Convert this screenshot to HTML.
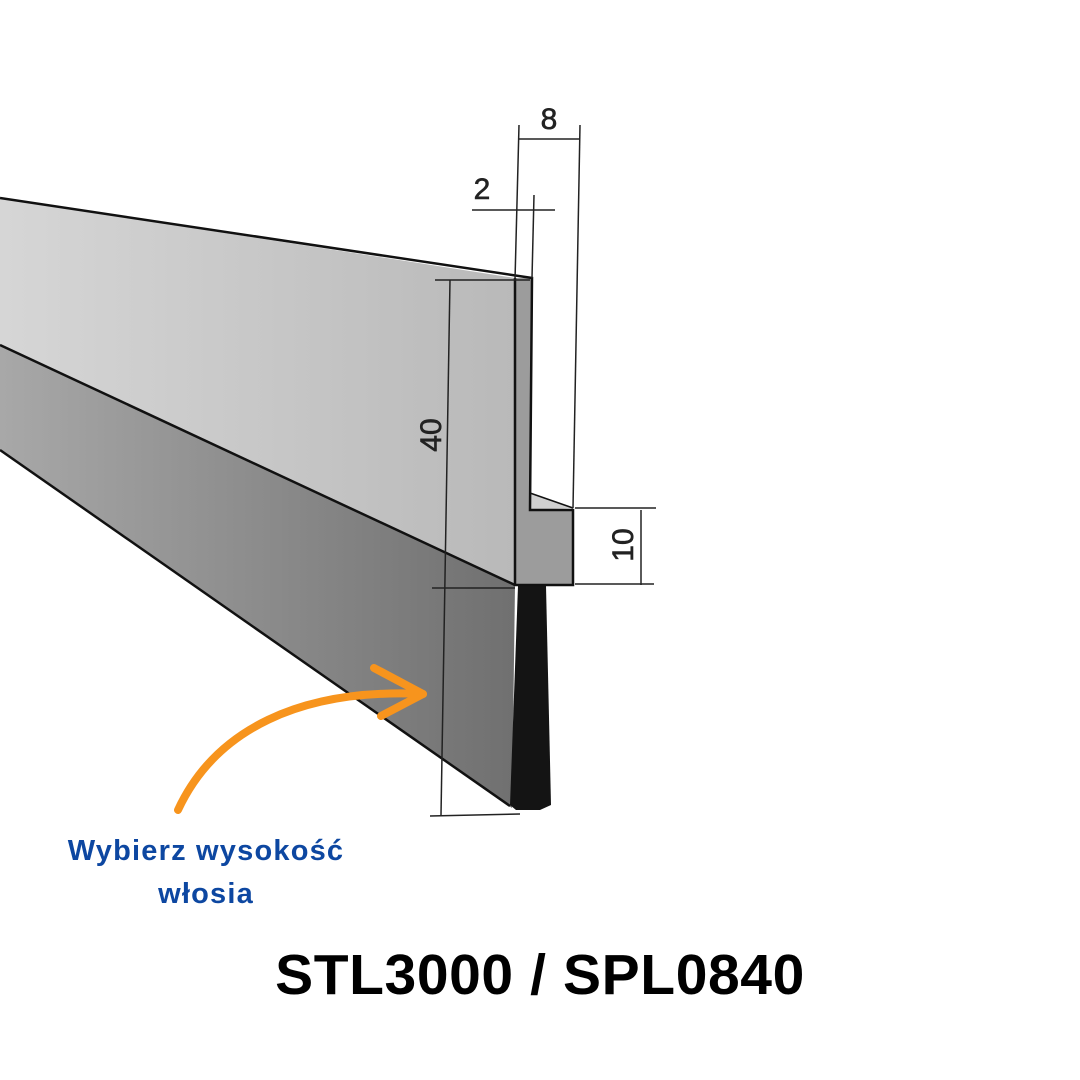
<!DOCTYPE html>
<html><head><meta charset="utf-8"><style>
html,body{margin:0;padding:0;background:#fff}
svg{display:block}
</style></head><body>
<svg width="1080" height="1080" viewBox="0 0 1080 1080" xmlns="http://www.w3.org/2000/svg">
<defs>
<linearGradient id="g1" x1="0" y1="0" x2="1" y2="0">
<stop offset="0" stop-color="#d6d6d6"/><stop offset="1" stop-color="#b9b9b9"/></linearGradient>
<linearGradient id="g2" x1="0" y1="0" x2="1" y2="0">
<stop offset="0" stop-color="#a8a8a8"/><stop offset="1" stop-color="#707070"/></linearGradient>
</defs>
<polygon points="0,345 515,585 512,808 0,450" fill="url(#g2)"/>
<polygon points="0,198 515,278 515,585 0,345" fill="url(#g1)"/>
<polygon points="515,278 532,278 530,510 573,510 573,585 515,585" fill="#9c9c9c"/>
<polygon points="530,493 573,508 530,510" fill="#d0d0d0"/>
<polygon points="518,586 546,586 551,805 540,810 516,810 510,805" fill="#141414"/>
<g stroke="#111" fill="none" stroke-width="2.5">
<polyline points="0,198 532,278 530,510 573,510 573,585 515,585 515,278"/>
<line x1="0" y1="345" x2="515" y2="585"/>
<line x1="0" y1="450" x2="510" y2="806"/>
<line x1="530" y1="493" x2="573" y2="508" stroke-width="1.5"/>
</g>
<g stroke="#222" stroke-width="1.5" fill="none">
<line x1="450" y1="280" x2="441" y2="815"/>
<line x1="435" y1="280" x2="530" y2="280"/>
<line x1="432" y1="588" x2="515" y2="588"/>
<line x1="430" y1="816" x2="520" y2="814"/>
<line x1="641" y1="510" x2="641" y2="585"/>
<line x1="575" y1="508" x2="656" y2="508"/>
<line x1="575" y1="584" x2="654" y2="584"/>
<line x1="519" y1="125" x2="515" y2="280"/>
<line x1="580" y1="125" x2="573" y2="508"/>
<line x1="519" y1="139" x2="580" y2="139"/>
<line x1="472" y1="210" x2="555" y2="210"/>
<line x1="534" y1="195" x2="532" y2="278"/>
</g>
<g font-family="Liberation Sans, sans-serif" font-size="30" fill="#222" stroke="#222" stroke-width="0.6">
<text x="549" y="129" text-anchor="middle">8</text>
<text x="482" y="199" text-anchor="middle">2</text>
<text transform="translate(441,435) rotate(-90)" text-anchor="middle">40</text>
<text transform="translate(633,545) rotate(-90)" text-anchor="middle">10</text>
</g>
<g stroke="#f7941d" stroke-width="8" fill="none" stroke-linecap="round" stroke-linejoin="round">
<path d="M178,810 C215,730 300,688 423,694"/>
<path d="M374,668 L423,694 L381,716"/>
</g>
<g font-family="Liberation Sans, sans-serif" font-weight="bold" fill="#0d47a1" font-size="29" letter-spacing="1.2" text-anchor="middle">
<text x="206" y="860">Wybierz wysokość</text>
<text x="206" y="903">włosia</text>
</g>
<text x="540" y="994" font-family="Liberation Sans, sans-serif" font-weight="bold" font-size="57" letter-spacing="0.6" text-anchor="middle" fill="#000">STL3000 / SPL0840</text>
</svg>
</body></html>
